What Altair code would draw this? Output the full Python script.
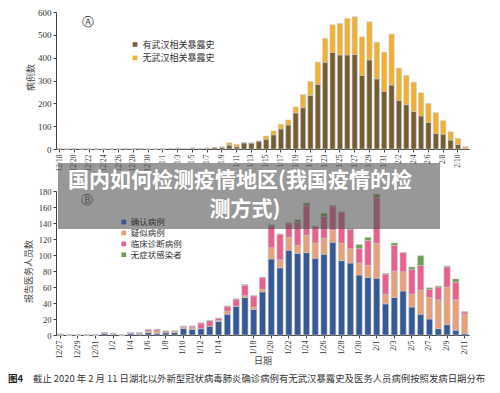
import altair as alt
import pandas as pd

# ---------------- data ----------------
top_dates = ["12/18", "12/19", "12/20", "12/21", "12/22", "12/23", "12/24", "12/25", "12/26", "12/27",
             "12/28", "12/29", "12/30", "12/31",
             "1/1", "1/2", "1/3", "1/4", "1/5", "1/6", "1/7", "1/8", "1/9", "1/10", "1/11", "1/12", "1/13",
             "1/14", "1/15", "1/16", "1/17", "1/18", "1/19", "1/20", "1/21", "1/22", "1/23", "1/24", "1/25",
             "1/26", "1/27", "1/28", "1/29", "1/30", "1/31",
             "2/1", "2/2", "2/3", "2/4", "2/5", "2/6", "2/7", "2/8", "2/9", "2/10", "2/11"]
wuhan_exposed = [1, 0, 1, 0, 0, 0, 0, 0, 0, 1, 0, 1, 0, 0, 0,
                 2, 3, 2, 4, 2, 3, 6, 8, 17, 10, 27, 26, 34, 43, 62, 88, 105, 158, 181, 235, 283, 380, 423,
                 412, 412, 414, 322, 390, 307, 252, 280, 213, 194, 164, 145, 117, 68, 65, 39, 20, 2]
no_wuhan_exposed = [0, 0, 0, 0, 0, 0, 0, 0, 0, 0, 0, 0, 0, 0, 0,
                    0, 0, 0, 0, 0, 0, 1, 1, 10, 10, 0, 0, 1, 14, 17, 20, 22, 26, 57, 61, 97, 104, 121,
                    137, 159, 165, 169, 167, 160, 171, 223, 141, 128, 128, 101, 82, 91, 59, 36, 26, 8]
top_series = ["有武汉相关暴露史", "无武汉相关暴露史"]
top_colors = ["#755d30", "#f0b030"]
top_ticks = [0, 100, 200, 300, 400, 500, 600]

bot_dates = top_dates[9:]
confirmed = [0, 0, 0, 0, 0, 2, 1, 0, 2, 1, 3, 2, 3, 3, 8, 7, 8, 11, 17, 26, 36, 47, 32, 54, 95,
             84, 106, 102, 103, 96, 101, 116, 93, 90, 75, 72, 71, 39, 47, 55, 35, 26, 20, 8, 13, 6, 2]
suspected = [0, 0, 0, 0, 0, 0, 0, 0, 0, 1, 2, 3, 0, 1, 2, 2, 0, 0, 1, 4, 0, 2, 3, 3, 14,
             10, 16, 10, 22, 19, 20, 15, 22, 18, 15, 15, 44, 12, 33, 24, 16, 30, 27, 36, 47, 38, 24]
clinical = [1, 0, 0, 0, 0, 1, 1, 0, 1, 1, 2, 2, 2, 1, 1, 2, 7, 7, 3, 6, 9, 13, 14, 15, 28,
            32, 18, 29, 37, 21, 27, 30, 38, 24, 18, 31, 57, 25, 32, 24, 31, 31, 10, 16, 25, 22, 3]
asymptomatic = [0, 0, 0, 0, 0, 0, 0, 0, 0, 0, 0, 0, 0, 0, 0, 0, 0, 0, 0, 0, 0, 1, 0, 0, 1,
                0, 0, 3, 3, 0, 4, 1, 1, 1, 5, 4, 4, 1, 3, 0, 3, 12, 2, 1, 1, 4, 0]
bot_series = ["确认病例", "疑似病例", "临床诊断病例", "无症状感染者"]
bot_colors = ["#355996", "#e8a078", "#e8608c", "#6aa050"]
bot_ticks = [0, 20, 40, 60, 80, 100, 120, 140, 160, 180]

top_labels = top_dates[::2]
bot_labels = [d for d in bot_dates[::2] if d != "1/16"]

title_line1 = "国内如何检测疫情地区(我国疫情的检"
title_line2 = "测方式)"
caption_head = "图4"
caption_body = "截止 2020 年 2 月 11 日湖北以外新型冠状病毒肺炎确诊病例有无武汉暴露史及医务人员病例按照发病日期分布"

# ---------------- tables ----------------
rows = []
for s_i, vals in enumerate([wuhan_exposed, no_wuhan_exposed]):
    for d, v in zip(top_dates, vals):
        rows.append({"date": d, "series": top_series[s_i], "value": v, "ord": s_i})
top_df = pd.DataFrame(rows)

rows = []
for s_i, vals in enumerate([confirmed, suspected, clinical, asymptomatic]):
    for d, v in zip(bot_dates, vals):
        rows.append({"date": d, "series": bot_series[s_i], "value": v, "ord": s_i})
bot_df = pd.DataFrame(rows)

W = 413
H = 323
TOP_ZERO = 137
BOT_TOP = 179

serif = "Liberation Serif"
cjk = "Noto Sans CJK SC"
axis_col = "#444444"

top_bars = alt.Chart(top_df).mark_bar(stroke="#c4c4c4", strokeWidth=0.6).encode(
    x=alt.X("date:N", sort=top_dates,
            scale=alt.Scale(domain=top_dates, paddingInner=0.3, paddingOuter=0.15),
            axis=alt.Axis(orient="bottom", values=top_labels, labelAngle=270, labelFont=serif,
                          labelFontSize=7.5, labelColor="#333", labelPadding=2, tickSize=3,
                          tickColor=axis_col, domainColor=axis_col, offset=TOP_ZERO - H,
                          title=None, grid=False)),
    y=alt.Y("value:Q", stack="zero",
            scale=alt.Scale(domain=[0, 600], range=[TOP_ZERO, 0]),
            axis=alt.Axis(orient="left", values=top_ticks, labelFont=serif, labelFontSize=9,
                          labelColor="#333", tickSize=3, tickColor=axis_col, domainColor=axis_col,
                          grid=False, title="病例数", titleFont=cjk, titleFontSize=9,
                          titleFontWeight="normal", titleColor="#444", titleX=-26, titleY=65,
                          titleBaseline="middle", titleAngle=270)),
    color=alt.Color("series:N", scale=alt.Scale(domain=top_series, range=top_colors),
                    legend=alt.Legend(orient="none", legendX=74.5, legendY=28, title=None,
                                      direction="vertical", symbolType="square", symbolSize=22,
                                      symbolStrokeWidth=0, labelFont=cjk, labelFontSize=9,
                                      labelColor="#333", rowPadding=3.4, labelOffset=3,
                                      padding=0)),
    order=alt.Order("ord:Q"),
)

bot_bars = alt.Chart(bot_df).mark_bar(stroke="#c4c4c4", strokeWidth=0.6).encode(
    x=alt.X("date:N", sort=bot_dates,
            scale=alt.Scale(domain=bot_dates, paddingInner=0.3, paddingOuter=0.15),
            axis=alt.Axis(orient="bottom", values=bot_labels, labelAngle=270, labelFont=serif,
                          labelFontSize=8, labelColor="#333", labelPadding=2, tickSize=3,
                          tickColor=axis_col, domainColor=axis_col, grid=False,
                          title="日期", titleFont=cjk, titleFontSize=9, titleFontWeight="normal",
                          titleColor="#444", titleY=25, titleBaseline="middle")),
    y=alt.Y("value:Q", stack="zero",
            scale=alt.Scale(domain=[0, 180], range=[H, BOT_TOP]),
            axis=alt.Axis(orient="left", values=bot_ticks, labelFont=serif, labelFontSize=8.5,
                          labelColor="#333", tickSize=3, tickColor=axis_col, domainColor=axis_col,
                          grid=False, title="报告医务人员数", titleFont=cjk, titleFontSize=9,
                          titleFontWeight="normal", titleColor="#444", titleX=-28, titleY=259,
                          titleBaseline="middle", titleAngle=270)),
    color=alt.Color("series:N", scale=alt.Scale(domain=bot_series, range=bot_colors),
                    legend=alt.Legend(orient="none", legendX=63.5, legendY=205.8, title=None,
                                      direction="vertical", symbolType="square", symbolSize=22,
                                      symbolStrokeWidth=0, labelFont=cjk, labelFontSize=8.5,
                                      labelColor="#333", rowPadding=1.9, labelOffset=2.8,
                                      padding=0)),
    order=alt.Order("ord:Q"),
)

one = pd.DataFrame({"t": ["x"]})

panel_a = alt.Chart(pd.DataFrame({"t": ["Ⓐ"]})).mark_text(
    font="DejaVu Sans", fontSize=12, color="#333", align="center", baseline="middle"
).encode(text="t:N", x=alt.value(32), y=alt.value(10))

panel_b = alt.Chart(pd.DataFrame({"t": ["Ⓑ"]})).mark_text(
    font="DejaVu Sans", fontSize=12, color="#333", align="center", baseline="middle"
).encode(text="t:N", x=alt.value(31), y=alt.value(188))

banner = alt.Chart(one).mark_rect(color="#4d4d4d", opacity=0.58).encode(
    x=alt.value(2), x2=alt.value(384), y=alt.value(151), y2=alt.value(217)
)

banner_t1 = alt.Chart(pd.DataFrame({"t": [title_line1]})).mark_text(
    font=cjk, fontSize=21, fontWeight="bold", color="white", align="center", baseline="middle"
).encode(text="t:N", x=alt.value(184), y=alt.value(169))

banner_t2 = alt.Chart(pd.DataFrame({"t": [title_line2]})).mark_text(
    font=cjk, fontSize=21, fontWeight="bold", color="white", align="center", baseline="middle"
).encode(text="t:N", x=alt.value(189), y=alt.value(198))

cap1 = alt.Chart(pd.DataFrame({"t": [caption_head]})).mark_text(
    font=cjk, fontSize=9.5, fontWeight="bold", color="#222", align="left", baseline="middle"
).encode(text="t:N", x=alt.value(-48), y=alt.value(367))

cap2 = alt.Chart(pd.DataFrame({"t": [caption_body]})).mark_text(
    font=cjk, fontSize=9.4, color="#333", align="left", baseline="middle"
).encode(text="t:N", x=alt.value(-23), y=alt.value(367))

chart = alt.layer(
    top_bars, bot_bars, panel_a, panel_b, banner, banner_t1, banner_t2, cap1, cap2
).resolve_scale(
    x="independent", y="independent", color="independent"
).properties(
    width=W, height=H, padding=0
).configure_view(strokeWidth=0)

chart.save("out.html", embed_options={"renderer": "svg", "actions": False})
